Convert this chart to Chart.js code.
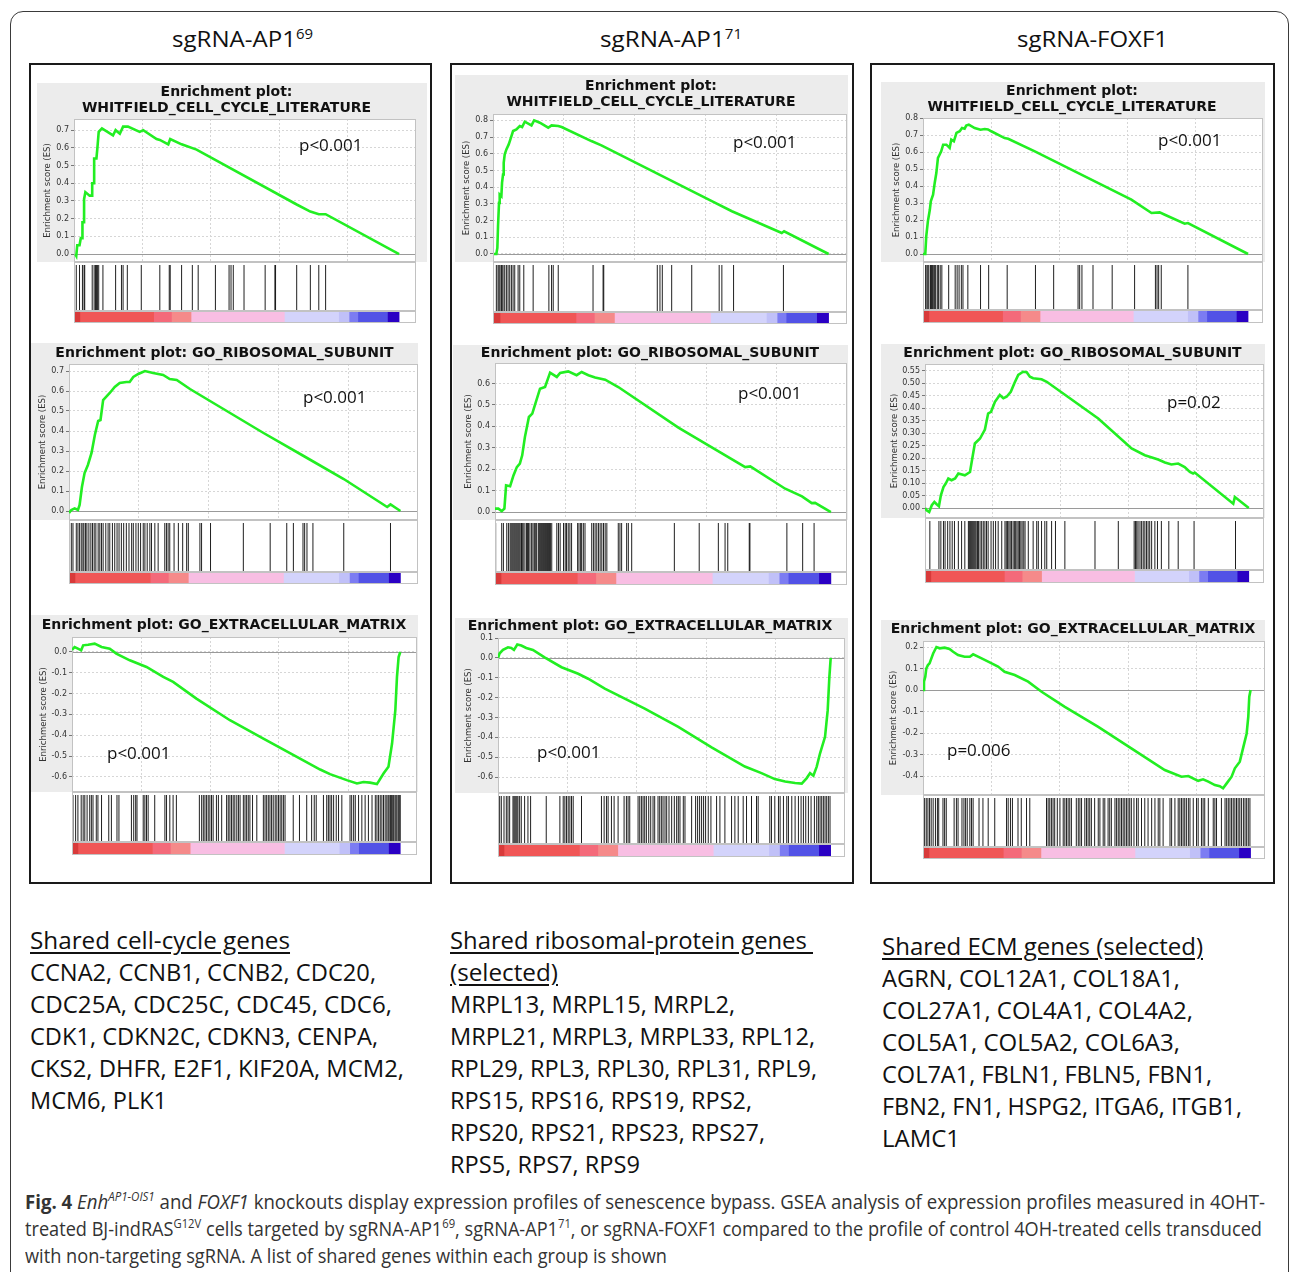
<!DOCTYPE html>
<html><head><meta charset="utf-8">
<script src="https://cdn.jsdelivr.net/npm/chart.js@4.4.1/dist/chart.umd.min.js"></script>
<style>
html,body{margin:0;padding:0;background:#fff;}
body{width:1290px;height:1272px;position:relative;overflow:hidden;font-family:'Open Sans',sans-serif;color:#111;}
.sup{font-size:0.62em;position:relative;top:-0.6em;line-height:0;}
.u{text-decoration:underline;text-decoration-thickness:1.5px;text-underline-offset:3px;}
</style></head><body>
<script>
// ---------------- DATA ----------------
const t1 = ['Enrichment plot:', 'WHITFIELD_CELL_CYCLE_LITERATURE'];
const t2 = ['Enrichment plot: GO_RIBOSOMAL_SUBUNIT'];
const t3 = ['Enrichment plot: GO_EXTRACELLULAR_MATRIX'];
const columnTitles = ['sgRNA-AP1<span class="sup">69</span>', 'sgRNA-AP1<span class="sup">71</span>', 'sgRNA-FOXF1'];
const pValues = ['p<0.001','p<0.001','p<0.001','p<0.001','p<0.001','p<0.001','p<0.001','p=0.02','p=0.006'];

// ranked-list colour bar: segment end positions (% of ranked list)
const colorEnds = [1.8, 24.5, 30, 36, 64.7, 81.4, 84.6, 87.3, 96.4, 100];

// Column 1 : sgRNA-AP1 69
const p1EsX = [0.4,0.7,1.0,1.7,2.1,2.6,2.6,3.1,3.1,3.5,4.8,5.6,5.6,6.2,6.2,6.9,7.2,7.6,8.6,12.0,12.8,14.1,15.1,16.6,20.2,21.3,25.4,26.4,29.0,29.6,33.1,37.7,68.5,72.7,75.3,77.4,100];
const p1EsY = [0,-0.01,0.05,0.05,0.09,0.09,0.18,0.18,0.31,0.35,0.33,0.33,0.40,0.40,0.54,0.54,0.60,0.69,0.71,0.67,0.70,0.68,0.72,0.72,0.69,0.70,0.65,0.645,0.62,0.65,0.62,0.59,0.28,0.24,0.225,0.225,0];
const p1Hits = [0.7,1.7,2.6,3.1,3.3,5.6,6.2,6.6,6.9,7.2,7.6,8.9,12.8,14.6,15.1,16.4,20.7,26.4,29.3,29.6,33.1,36.4,38.2,43.5,47.7,48.3,49.0,52.3,58.8,61.8,62.0,68.5,72.7,75.3,77.4];
const p1Ticks = [0,0.1,0.2,0.3,0.4,0.5,0.6,0.7];

const p2EsX = [0,0.7,1.7,2.7,3.2,3.9,4.7,5.7,6.8,7.8,8.8,9.5,10.3,12.3,13.8,15.3,17.3,18.3,19.4,20.9,22.9,25.4,28.4,30.4,32.5,36.5,58.7,70.8,82.9,96.0,97.0,100];
const p2EsY = [-0.01,0.005,0.013,0.005,0.03,0.12,0.19,0.23,0.29,0.38,0.45,0.455,0.555,0.59,0.62,0.64,0.645,0.645,0.67,0.685,0.70,0.69,0.68,0.66,0.655,0.61,0.39,0.275,0.16,0.02,0.033,0];
const p2Hits = [0.7,1.2,2.2,2.7,3.2,3.7,4.2,4.5,5.0,5.4,6.0,6.6,7.1,7.6,8.1,8.8,9.3,9.8,10.3,11.1,11.8,12.3,13.1,13.8,14.5,15.1,15.8,16.5,17.3,18.1,18.9,19.4,20.2,20.9,21.6,22.4,22.9,23.6,24.4,24.9,25.9,26.9,28.9,29.4,29.9,30.4,31.7,33.0,34.3,35.5,36.0,39.5,40.0,42.7,52.6,60.7,65.7,67.7,70.6,71.1,71.8,73.6,82.9,97.0];
const p2Ticks = [0,0.1,0.2,0.3,0.4,0.5,0.6,0.7];

const p3EsX = [0,0.8,1.8,2.8,3.4,4.9,6.9,9.0,11.5,13.5,17.6,22.7,27.8,30.8,37.9,48.1,58.3,68.5,75.6,78.6,83.7,86.8,88.8,90.8,92.9,94.9,96.4,97.5,98.5,99.0,99.5,100];
const p3EsY = [0.01,0.024,0.016,0.008,0.032,0.035,0.04,0.024,0.016,-0.008,-0.04,-0.072,-0.12,-0.144,-0.224,-0.328,-0.416,-0.504,-0.565,-0.587,-0.616,-0.632,-0.625,-0.628,-0.635,-0.584,-0.552,-0.44,-0.28,-0.12,-0.024,0];
const p3Hits = [0.3,1.1,1.8,2.8,3.4,3.9,4.6,5.4,5.9,6.4,7.4,7.9,9.0,11.2,12.0,13.7,14.3,18.1,18.8,19.4,19.8,21.7,22.2,22.7,23.2,25.2,28.3,28.8,29.8,30.8,31.8,38.8,39.5,40.0,40.5,41.0,41.5,42.0,42.5,43.0,44.0,44.6,45.6,47.1,47.6,48.1,48.6,49.1,49.6,50.2,50.7,51.2,52.2,52.7,53.2,53.7,54.2,55.0,56.3,58.3,58.8,59.3,59.8,60.3,60.8,61.3,61.9,62.4,62.9,63.4,63.9,64.4,64.9,67.4,69.3,71.5,73.0,73.8,74.4,76.6,77.6,78.1,78.6,79.1,79.7,80.5,81.2,82.2,84.7,85.2,85.8,86.3,87.3,88.3,89.3,90.3,91.4,92.4,92.9,93.4,93.9,94.4,94.9,95.4,95.9,96.3,96.6,97.0,97.3,97.7,98.0,98.4,98.7,99.0,99.4,99.7,100];
const p3Ticks = [0,-0.1,-0.2,-0.3,-0.4,-0.5,-0.6];

// Column 2 : sgRNA-AP1 71
const p4EsX = [0,0.7,1.0,1.2,1.5,1.7,2.2,2.4,2.7,2.9,3.2,3.7,4.4,4.9,5.7,6.7,7.7,8.4,9.2,11.2,12.0,13.7,16.2,17.2,19.2,20.2,29.1,32.1,65.1,71.1,86.0,86.7,100];
const p4EsY = [0,0,0.036,0.166,0.306,0.356,0.346,0.426,0.476,0.546,0.596,0.626,0.656,0.686,0.736,0.746,0.766,0.76,0.792,0.77,0.80,0.786,0.756,0.77,0.766,0.76,0.676,0.65,0.316,0.256,0.126,0.136,0];
const p4Hits = [0.7,1.2,1.5,1.8,2.2,2.4,2.7,3.2,3.7,4.2,4.7,5.2,5.7,6.2,7.2,7.7,8.9,11.7,16.4,17.2,17.7,19.2,29.6,32.6,32.8,48.8,49.6,50.3,53.1,59.1,67.3,68.1,71.6,86.5];
const p4Ticks = [0,0.1,0.2,0.3,0.4,0.5,0.6,0.7,0.8];

const p5EsX = [0,1.0,2.0,2.8,3.3,4.5,5.5,6.5,7.4,8.1,8.9,10.1,11.1,11.9,13.4,14.9,16.4,18.4,19.4,21.8,24.3,25.8,27.8,29.8,32.8,36.7,54.6,74.5,76.0,86.4,91.4,94.3,95.3,100];
const p5EsY = [0.016,0.016,0.005,0.016,0.125,0.121,0.171,0.21,0.226,0.265,0.35,0.444,0.46,0.50,0.576,0.584,0.651,0.631,0.65,0.657,0.639,0.654,0.639,0.628,0.618,0.584,0.394,0.21,0.213,0.109,0.073,0.042,0.043,0];
const p5Hits = [0.2,2.0,2.5,3.5,4.0,4.5,4.8,5.1,5.4,5.7,6.0,6.3,6.6,6.9,7.2,7.5,7.9,8.1,8.4,8.9,9.4,9.7,10.0,10.4,10.9,11.3,11.7,12.0,12.4,12.9,13.2,13.5,13.8,14.1,14.4,14.7,15.0,15.3,15.6,15.9,16.2,16.5,16.9,18.4,18.9,19.4,20.4,20.9,21.3,21.8,22.3,22.8,24.6,25.0,25.5,25.8,26.3,26.8,28.8,29.3,29.8,30.3,30.8,31.3,31.8,32.3,32.8,33.3,36.7,37.2,37.7,39.2,39.7,40.7,53.4,60.8,66.5,68.5,69.3,75.7,75.9,86.9,91.6,95.0];
const p5Ticks = [0,0.1,0.2,0.3,0.4,0.5,0.6];

const p6EsX = [0,0.5,1.5,3.0,4.0,4.8,5.8,7.0,8.5,10.5,14.0,19.1,24.1,27.1,32.1,44.1,54.2,64.2,74.2,79.2,83.2,86.3,89.3,91.3,92.8,93.8,94.8,95.8,96.8,98.3,99.1,99.6,100];
const p6EsY = [0,0.023,0.04,0.053,0.05,0.04,0.067,0.062,0.05,0.04,0.003,-0.047,-0.08,-0.105,-0.155,-0.255,-0.347,-0.45,-0.547,-0.58,-0.61,-0.622,-0.63,-0.633,-0.605,-0.58,-0.593,-0.547,-0.48,-0.397,-0.263,-0.097,0];
const p6Hits = [0.5,1.0,1.8,2.5,3.0,3.5,4.5,4.8,5.1,5.4,5.7,6.0,6.5,7.0,8.0,9.0,9.8,14.5,18.6,19.6,20.1,20.6,21.1,21.6,22.1,22.6,25.1,31.1,31.9,32.6,33.1,34.1,34.9,36.1,37.9,38.6,39.1,39.6,42.1,42.6,43.1,43.6,44.1,44.6,45.3,45.9,46.6,47.1,48.1,48.6,49.1,49.6,50.2,50.7,51.4,52.2,53.0,53.7,54.2,54.7,55.7,56.2,58.2,59.4,60.0,60.6,61.2,61.8,62.4,63.2,64.0,65.7,66.7,68.2,70.2,71.2,72.2,73.7,74.7,76.2,77.7,78.2,81.7,82.2,83.2,84.3,84.8,85.8,86.8,87.3,88.3,89.3,90.3,91.1,91.8,92.5,93.3,94.1,95.1,95.8,96.3,96.8,97.3,97.8,98.3,98.8,99.3,99.8];
const p6Ticks = [0.1,0,-0.1,-0.2,-0.3,-0.4,-0.5,-0.6];

// Column 3 : sgRNA-FOXF1
const p7EsX = [0,0.7,1.0,1.5,2.1,2.4,3.1,3.6,4.1,4.6,5.1,5.6,6.2,7.2,8.2,8.7,9.5,10.3,11.3,12.0,12.8,13.3,14.1,15.9,17.7,19.0,20.0,21.0,25.1,26.2,34.4,64.1,70.3,72.8,74.4,80.5,81.5,100];
const p7EsY = [0,0,0.104,0.192,0.26,0.31,0.349,0.418,0.476,0.565,0.584,0.604,0.643,0.643,0.624,0.673,0.663,0.712,0.722,0.741,0.737,0.755,0.761,0.741,0.731,0.735,0.733,0.722,0.682,0.678,0.604,0.32,0.241,0.245,0.231,0.178,0.182,0];
const p7Hits = [0.8,1.2,1.5,1.8,2.3,2.6,2.9,3.3,3.6,3.9,4.4,4.8,5.3,5.8,7.9,9.9,10.5,11.1,11.8,12.3,13.8,17.7,20.2,25.9,34.6,40.2,47.7,48.2,48.9,52.3,58.2,65.1,71.5,72.0,72.5,73.3,81.5];
const p7Ticks = [0,0.1,0.2,0.3,0.4,0.5,0.6,0.7,0.8];

const p8EsX = [0,0.5,1.3,2.1,2.9,3.6,4.3,4.9,5.7,6.4,7.2,8.2,9.3,10.3,12.3,13.9,14.6,15.4,17.0,18.5,19.5,20.4,21.6,23.1,24.2,25.2,26.5,27.6,28.8,30.3,31.4,32.4,33.4,36.0,37.6,53.5,63.8,67.9,72.0,74.1,76.1,78.2,80.2,81.8,82.8,83.3,95.2,95.7,100];
const p8EsY = [0,-0.009,-0.016,0.011,0.024,0.015,0.007,0.051,0.084,0.098,0.118,0.111,0.118,0.138,0.131,0.144,0.198,0.258,0.278,0.314,0.378,0.385,0.425,0.452,0.439,0.445,0.465,0.499,0.532,0.545,0.543,0.525,0.519,0.515,0.505,0.358,0.238,0.211,0.194,0.182,0.174,0.178,0.164,0.144,0.138,0.142,0.017,0.044,0];
const p8Hits = [1.5,4.3,4.9,5.7,6.2,7.0,7.7,8.4,9.1,10.3,11.3,12.3,13.4,13.7,14.0,14.3,14.6,14.9,15.2,15.5,15.8,16.2,16.5,17.0,17.5,18.0,18.5,19.0,19.5,20.4,21.1,21.8,22.6,23.7,24.7,25.1,25.5,25.9,26.3,26.7,27.2,27.6,28.0,28.4,28.8,29.2,29.6,30.0,30.5,30.9,31.9,33.4,34.5,35.0,36.0,37.0,37.6,39.1,40.3,43.2,52.5,59.7,64.6,65.0,65.4,65.8,66.4,66.9,67.4,67.9,68.4,68.9,69.4,70.0,71.0,71.8,73.0,75.3,78.2,83.1,95.9];
const p8Ticks = [0,0.05,0.1,0.15,0.2,0.25,0.3,0.35,0.4,0.45,0.5,0.55];

const p9EsX = [0,0.3,0.7,1.0,1.5,2.0,3.1,4.1,5.1,6.6,8.1,9.2,10.7,12.7,14.3,15.3,16.8,19.9,22.9,24.9,28.0,32.1,36.2,43.3,53.5,63.6,73.8,78.9,81.0,84.0,85.5,87.1,89.1,90.6,91.6,92.7,94.2,95.2,96.7,97.8,98.8,99.3,99.6,100];
const p9EsY = [0,0.039,0.062,0.1,0.116,0.124,0.17,0.2,0.194,0.197,0.191,0.178,0.163,0.155,0.155,0.166,0.155,0.132,0.109,0.085,0.07,0.039,-0.008,-0.078,-0.171,-0.271,-0.372,-0.403,-0.4,-0.422,-0.415,-0.426,-0.442,-0.447,-0.457,-0.434,-0.403,-0.364,-0.333,-0.264,-0.202,-0.124,-0.031,0];
const p9Hits = [0.5,1.0,1.5,2.0,2.5,3.1,3.8,4.4,4.8,6.1,6.6,7.1,9.5,10.2,10.7,11.9,12.5,13.0,13.5,14.3,14.8,15.3,17.1,18.3,19.9,21.9,25.5,26.0,26.7,27.3,29.0,30.0,31.6,32.6,37.7,38.2,38.7,39.2,39.7,40.2,41.0,41.8,42.8,43.3,43.8,44.3,44.8,45.3,46.8,47.4,47.9,48.4,49.4,49.9,50.4,50.9,51.4,52.4,53.5,54.0,55.0,55.5,56.5,57.0,57.5,58.6,59.1,59.6,60.1,60.6,61.1,61.6,62.1,62.6,63.1,63.6,64.4,65.2,65.7,66.7,67.7,68.7,69.8,70.8,71.8,72.3,73.3,75.4,75.9,76.9,77.9,78.4,78.9,79.4,79.9,80.4,81.0,81.5,82.5,83.5,84.0,85.0,85.5,86.0,87.1,88.6,89.1,89.6,91.1,92.2,92.7,93.2,93.7,94.2,94.7,95.2,95.7,96.2,96.7,97.2,97.8,98.3,98.8,99.3,99.8];
const p9Ticks = [0.2,0.1,0,-0.1,-0.2,-0.3,-0.4];

// Gene lists (text)
const genes1 = ['CCNA2, CCNB1, CCNB2, CDC20,','CDC25A, CDC25C, CDC45, CDC6,','CDK1, CDKN2C, CDKN3, CENPA,','CKS2, DHFR, E2F1, KIF20A, MCM2,','MCM6, PLK1'];
const genes2 = ['MRPL13, MRPL15, MRPL2,','MRPL21, MRPL3, MRPL33, RPL12,','RPL29, RPL3, RPL30, RPL31, RPL9,','RPS15, RPS16, RPS19, RPS2,','RPS20, RPS21, RPS23, RPS27,','RPS5, RPS7, RPS9'];
const genes3 = ['AGRN, COL12A1, COL18A1,','COL27A1, COL4A1, COL4A2,','COL5A1, COL5A2, COL6A3,','COL7A1, FBLN1, FBLN5, FBN1,','FBN2, FN1, HSPG2, ITGA6, ITGB1,','LAMC1'];

// ---------------- STYLE / LAYOUT ----------------
const colorFills = ['#d83a3a','#f05656','#f46a7a','#f58a8a','#f8bee3','#d3d3fb','#c0c0f8','#7c7cf2','#5252e6','#2a00c4'];
const GREEN = '#22ee22', GRAY = '#ececec', GRID = '#d6d6d6', FRAME = '#c2c2c2';

const panels = [
 {x:p1EsX,y:p1EsY,hits:p1Hits,ticks:p1Ticks,dec:1,title:t1},
 {x:p2EsX,y:p2EsY,hits:p2Hits,ticks:p2Ticks,dec:1,title:t2},
 {x:p3EsX,y:p3EsY,hits:p3Hits,ticks:p3Ticks,dec:1,title:t3},
 {x:p4EsX,y:p4EsY,hits:p4Hits,ticks:p4Ticks,dec:1,title:t1},
 {x:p5EsX,y:p5EsY,hits:p5Hits,ticks:p5Ticks,dec:1,title:t2},
 {x:p6EsX,y:p6EsY,hits:p6Hits,ticks:p6Ticks,dec:1,title:t3},
 {x:p7EsX,y:p7EsY,hits:p7Hits,ticks:p7Ticks,dec:1,title:t1},
 {x:p8EsX,y:p8EsY,hits:p8Hits,ticks:p8Ticks,dec:2,title:t2},
 {x:p9EsX,y:p9EsY,hits:p9Hits,ticks:p9Ticks,dec:1,title:t3},
];
const layout = [
 {g:[37,83,427], p:[74,119,416,262], tc:92, hb:311, cb:323, xr:[0,105.2], yr:[-0.045,0.763], yl:11, pv:[299,145]},
 {g:[31,343,418], p:[69,364,418,520], tc:353, hb:572, cb:584, xr:[0,105.3], yr:[-0.045,0.735], yl:12, pv:[303,397]},
 {g:[31,615,418], p:[72,637,417,792], tc:625, hb:842, cb:855, xr:[0,105.1], yr:[-0.673,0.072], yl:13, pv:[107,753]},
 {g:[455,75,848], p:[493,114,847,262], tc:86, hb:312, cb:324, xr:[-0.3,105.5], yr:[-0.048,0.838], yl:12, pv:[733,142]},
 {g:[453,345,848], p:[495,363,847,520], tc:353, hb:572, cb:585, xr:[0,104.8], yr:[-0.037,0.696], yl:16, pv:[738,393]},
 {g:[455,618,848], p:[498,638,845,793], tc:626, hb:844, cb:857, xr:[0,104.3], yr:[-0.68,0.1], yl:14, pv:[537,752]},
 {g:[881,82,1265], p:[923,118,1263,262], tc:91, hb:310, cb:323, xr:[0,104.6], yr:[-0.047,0.8], yl:16, pv:[1158,140]},
 {g:[881,344,1265], p:[925,364,1264,518], tc:353, hb:570, cb:583, xr:[0,104.7], yr:[-0.04,0.576], yl:14, pv:[1167,402]},
 {g:[881,620,1265], p:[923,641,1265,795], tc:629, hb:847, cb:859, xr:[0,104.4], yr:[-0.488,0.228], yl:13, pv:[947,750]},
];

function box(x,y,w,h,css){const d=document.createElement('div');d.style.cssText=`position:absolute;left:${x}px;top:${y}px;width:${w}px;height:${h}px;box-sizing:border-box;${css}`;document.body.appendChild(d);return d;}
function mk(x,y,w,h){const c=document.createElement('canvas');c.width=w;c.height=h;c.style.cssText=`position:absolute;left:${x}px;top:${y}px;width:${w}px;height:${h}px;`;document.body.appendChild(c);return c;}
function txt(html,x,cy,size,w,css){const lh=Math.round(size*1.35);const d=document.createElement('div');d.innerHTML=html;
 d.style.cssText=`position:absolute;left:${x}px;top:${(cy-lh/2-0.03*size).toFixed(1)}px;font-size:${size}px;line-height:${lh}px;white-space:nowrap;transform-origin:0 50%;${css||''}`;
 if(w) d.dataset.w=w; document.body.appendChild(d); return d;}

// frames
box(10,11,1279,1300,'border:1.5px solid #3a3a3a;border-radius:13px;');
box(29,63,403,821,'border:2px solid #1a1a1a;');
box(450,63,404,821,'border:2px solid #1a1a1a;');
box(870,63,405,821,'border:2px solid #1a1a1a;');

const esPlugin = {id:'esbg',
 beforeDraw(c){const {ctx,chartArea:a}=c;ctx.save();ctx.fillStyle=GRAY;ctx.fillRect(0,0,c.width,c.height);ctx.fillStyle='#fff';ctx.fillRect(a.left,a.top,a.right-a.left,a.bottom-a.top);ctx.restore();},
 beforeDatasetsDraw(c){const {ctx,chartArea:a,scales:{y}}=c;const y0=Math.round(y.getPixelForValue(0))+0.5;ctx.save();ctx.lineWidth=1;ctx.strokeStyle='#9a9a9a';ctx.beginPath();ctx.moveTo(a.left,y0);ctx.lineTo(a.right,y0);ctx.stroke();ctx.strokeStyle=FRAME;ctx.strokeRect(a.left+0.5,a.top+0.5,a.right-a.left-1,a.bottom-a.top-1);ctx.restore();}
};
const framePlugin = {id:'frame', afterDraw(c){const {ctx}=c;ctx.save();ctx.strokeStyle=FRAME;ctx.lineWidth=1;ctx.strokeRect(0.5,0.5,c.width-1,c.height-1);ctx.restore();}};

panels.forEach((P,i)=>{
 const G=layout[i];
 const [gL,gT,gR]=G.g, [pL,pT,pR,pB]=G.p;
 const fs=14, lh=16, n=P.title.length;
 const pt=G.tc-gT-lh/2, pb=(pT-gT)-n*lh-pt;
 const W=pL-gL, xmin=G.xr[0], xmax=G.xr[1];
 // ES curve
 new Chart(mk(gL,gT,gR-gL,pB-gT),{
  type:'line',
  data:{datasets:[{data:P.x.map((x,k)=>({x,y:P.y[k]})),borderColor:GREEN,borderWidth:2.6,pointRadius:0,tension:0,fill:false}]},
  options:{animation:false,responsive:false,events:[],
   layout:{autoPadding:false,padding:{left:0,top:0,right:gR-pR,bottom:0}},
   plugins:{legend:{display:false},tooltip:{enabled:false},
    title:{display:true,text:P.title,color:'#111',font:{family:'DejaVu Sans',size:fs,weight:'bold',lineHeight:lh/fs},padding:{top:pt,bottom:pb}}},
   scales:{
    x:{type:'linear',min:xmin,max:xmax,offset:false,
     afterBuildTicks(s){s.ticks=[1,2,3,4].map(k=>({value:xmin+k*(xmax-xmin)/5}));},
     afterFit(s){s.height=0;s.paddingLeft=0;s.paddingRight=0;},
     ticks:{display:false},grid:{color:GRID,drawTicks:false},border:{display:false,dash:[2,2]}},
    y:{type:'linear',min:G.yr[0],max:G.yr[1],
     afterBuildTicks(s){s.ticks=P.ticks.map(v=>({value:v}));},
     afterFit(s){s.width=W;s.paddingTop=0;s.paddingBottom=0;},
     ticks:{font:{family:'DejaVu Sans',size:8},color:'#333',padding:2,callback:v=>Number(v).toFixed(P.dec)},
     grid:{color:GRID,tickColor:'#777',tickLength:3,drawTicks:true},border:{display:false,dash:[2,2]},
     title:{display:true,text:'Enrichment score (ES)',color:'#333',font:{family:'DejaVu Sans',size:8.5},padding:{top:G.yl-5,bottom:0}}}
   }},
  plugins:[esPlugin]});
 // hits (vertical tick marks at gene-set member positions)
 const hH=G.hb-pB;
 new Chart(mk(pL,pB,pR-pL,hH),{
  type:'scatter',
  data:{datasets:[{data:P.hits.map(h=>({x:h,y:0.5})),pointStyle:'line',pointRotation:90,pointRadius:(hH-3)/2,pointBorderColor:'rgba(0,0,0,0.88)',pointBorderWidth:1}]},
  options:{animation:false,responsive:false,events:[],layout:{autoPadding:false,padding:{top:3,left:0,right:0,bottom:0}},
   plugins:{legend:{display:false},tooltip:{enabled:false}},
   scales:{x:{type:'linear',min:xmin,max:xmax,offset:false,display:false},y:{min:0,max:1,display:false}}},
  plugins:[framePlugin]});
 // ranked list colour bar
 new Chart(mk(pL,G.hb,pR-pL,G.cb-G.hb),{
  type:'bar',
  data:{labels:[''],datasets:colorEnds.map((e,k)=>({data:[[k?colorEnds[k-1]:0,e]],backgroundColor:colorFills[k],borderWidth:0,grouped:false,barPercentage:1,categoryPercentage:1}))},
  options:{indexAxis:'y',animation:false,responsive:false,events:[],layout:{autoPadding:false},
   plugins:{legend:{display:false},tooltip:{enabled:false}},
   scales:{x:{type:'linear',min:xmin,max:xmax,offset:false,display:false},y:{display:false}}},
  plugins:[framePlugin]});
 // p-value
 txt(pValues[i].replace('<','&lt;'),G.pv[0],G.pv[1],17,null,'color:#111;');
});

// column titles
txt(columnTitles[0],172,39,22,141);
txt(columnTitles[1],600,39,22,142);
txt(columnTitles[2],1017,39,22,151);

// gene lists
txt('<span class="u">Shared cell-cycle genes</span>',30,941,23,260);
const w1=[346,362,348,374,137];
genes1.forEach((g,k)=>txt(g,30,973+32*k,23,w1[k]));
txt('<span class="u">Shared ribosomal-protein genes&nbsp;</span>',450,941,23,363);
txt('<span class="u">(selected)</span>',450,973,23,108);
const w2=[285,365,367,302,315,190];
genes2.forEach((g,k)=>txt(g,450,1005+32*k,23,w2[k]));
txt('<span class="u">Shared ECM genes (selected)</span>',882,947,23,321);
const w3=[298,311,298,330,360,78];
genes3.forEach((g,k)=>txt(g,882,979+32*k,23,w3[k]));

// caption
const cap='color:#333;';
txt('<b>Fig. 4</b> <i>Enh</i><span class="sup"><i>AP1-OIS1</i></span> and <i>FOXF1</i> knockouts display expression profiles of senescence bypass. GSEA analysis of expression profiles measured in 4OHT-',25,1202,20,1240,cap);
txt('treated BJ-indRAS<span class="sup">G12V</span> cells targeted by sgRNA-AP1<span class="sup">69</span>, sgRNA-AP1<span class="sup">71</span>, or sgRNA-FOXF1 compared to the profile of control 4OH-treated cells transduced',25,1229,20,1237,cap);
txt('with non-targeting sgRNA. A list of shared genes within each group is shown',25,1256,20,642,cap);

function fitAll(){document.querySelectorAll('[data-w]').forEach(el=>{el.style.transform='none';const w=el.getBoundingClientRect().width;if(w>0) el.style.transform=`scaleX(${(+el.dataset.w/w).toFixed(4)})`;});}
fitAll();
if(document.fonts&&document.fonts.ready) document.fonts.ready.then(fitAll);
</script>
</body></html>
